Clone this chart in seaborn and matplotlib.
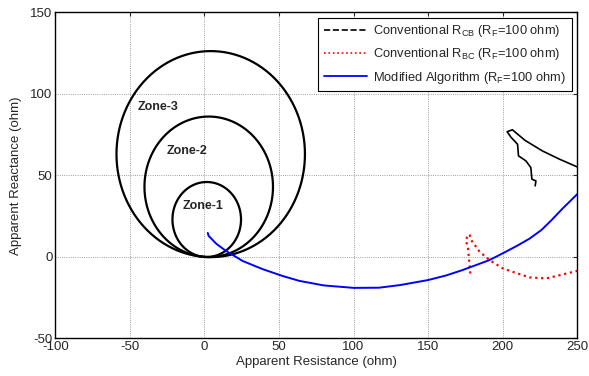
import numpy as np
import pandas as pd
import matplotlib
matplotlib.use('Agg')
import matplotlib.pyplot as plt
import seaborn as sns
from matplotlib.lines import Line2D

# mho zones: reach (ohm) and characteristic angle (deg)
zone_names = ['Zone-1', 'Zone-2', 'Zone-3']
zone_reach = [46.0, 86.2, 126.4]
mho_angle = 86.2
zone_label_x = [-1, -12, -31]
zone_label_y = [31, 65, 92]

# impedance trajectories
rcb_r = [221.8, 222.3, 219.6, 218.9, 215.6, 210.6, 210.0, 205.5, 203.0, 206.5, 215.0, 226.7, 238.0, 250.0]
rcb_x = [43.6, 46.6, 47.7, 54.8, 58.9, 62.0, 69.1, 73.5, 76.8, 78.0, 71.5, 65.0, 60.0, 55.2]

rbc_r = [178.3, 177.9, 177.4, 176.7, 175.2, 177.0, 177.9, 179.0, 184.6, 191.3, 200.2, 206.9, 218.1, 229.3, 238.3, 250.0]
rbc_x = [-10.2, -6.1, -1.0, 6.1, 10.2, 13.8, 13.3, 10.2, 3.1, -2.0, -7.1, -9.2, -12.6, -13.2, -11.2, -8.6]

mod_r = [2.2, 2.8, 8.0, 14.4, 25.6, 39.0, 52.4, 63.6, 80.0, 100.0, 117.0, 131.0, 150.0, 162.0, 173.0, 191.0, 200.5, 210.0, 218.0, 226.0, 232.6, 240.0, 250.0]
mod_x = [14.7, 12.9, 8.0, 3.7, -2.5, -7.5, -11.7, -14.7, -17.5, -19.0, -18.9, -17.3, -14.2, -11.4, -8.1, -2.0, 2.4, 7.0, 11.2, 16.5, 22.4, 29.5, 38.5]

labels = [r'Conventional R$_{\mathrm{CB}}$ (R$_{\mathrm{F}}$=100 ohm)',
          r'Conventional R$_{\mathrm{BC}}$ (R$_{\mathrm{F}}$=100 ohm)',
          r'Modified Algorithm (R$_{\mathrm{F}}$=100 ohm)']

sns.set_style('white')
plt.rcParams['font.family'] = ['Liberation Sans', 'DejaVu Sans']
plt.rcParams['mathtext.fontset'] = 'custom'
plt.rcParams['mathtext.rm'] = 'Liberation Sans'
plt.rcParams['mathtext.it'] = 'Liberation Sans:italic'
plt.rcParams['mathtext.bf'] = 'Liberation Sans:bold'
plt.rcParams['axes.unicode_minus'] = False

fig, ax = plt.subplots(figsize=(5.89, 3.76), dpi=100)
fig.subplots_adjust(left=0.094, right=0.98, bottom=0.1, top=0.967)

# zone circles
t = np.linspace(0, 2 * np.pi, 361)
a = np.deg2rad(mho_angle)
for name, reach, lx, ly in zip(zone_names, zone_reach, zone_label_x, zone_label_y):
    rad = reach / 2
    circ = pd.DataFrame({'R': rad * np.cos(a) + rad * np.cos(t),
                         'X': rad * np.sin(a) + rad * np.sin(t)})
    sns.lineplot(data=circ, x='R', y='X', sort=False, estimator=None,
                 color='black', linewidth=1.6, ax=ax)
    ax.text(lx, ly, name, fontsize=9, fontweight='bold', ha='center', va='center')

sns.lineplot(x=rcb_r, y=rcb_x, sort=False, estimator=None, color='black', linewidth=1.2, ax=ax)
sns.lineplot(x=rbc_r, y=rbc_x, sort=False, estimator=None, color='red', linewidth=1.6,
             linestyle=':', ax=ax)
sns.lineplot(x=mod_r, y=mod_x, sort=False, estimator=None, color='blue', linewidth=1.4, ax=ax)

handles = [Line2D([], [], color='black', linestyle='--', linewidth=1.2),
           Line2D([], [], color='red', linestyle=':', linewidth=1.2),
           Line2D([], [], color='blue', linestyle='-', linewidth=1.3)]
leg = ax.legend(handles, labels, loc='upper right', fontsize=9.3, fancybox=False,
                framealpha=1, edgecolor='black', borderaxespad=0.4, handlelength=3.3,
                labelspacing=0.55, handletextpad=0.5, borderpad=0.45)
leg.get_frame().set_linewidth(0.8)

ax.set_xlim(-100, 250)
ax.set_ylim(-50, 150)
ax.set_xticks(np.arange(-100, 251, 50))
ax.set_yticks(np.arange(-50, 151, 50))
ax.grid(True, color='gray', linestyle=':', linewidth=0.6)
ax.tick_params(direction='in', length=3, top=True, right=True, labelsize=9.5, pad=2)
for sp in ax.spines.values():
    sp.set_color('black')
    sp.set_linewidth(1.0)
ax.set_xlabel('Apparent Resistance (ohm)', fontsize=9.5, labelpad=2)
ax.set_ylabel('Apparent Reactance (ohm)', fontsize=9.5, labelpad=6)

fig.savefig('out.png', dpi=100)
